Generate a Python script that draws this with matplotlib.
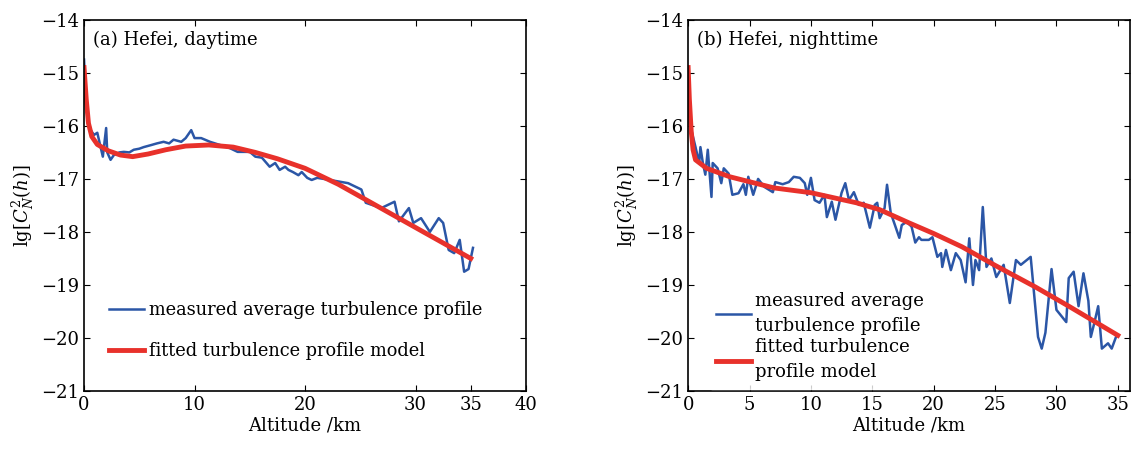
import matplotlib.pyplot as plt
import numpy as np

plt.rcParams['font.family'] = 'DejaVu Serif'
plt.rcParams['mathtext.fontset'] = 'dejavuserif'

# (a) daytime, measured
day_h = [0.0, 0.1, 0.3, 0.6, 0.9, 1.2, 1.5, 1.7, 2.0, 2.1, 2.4, 2.7, 3.2, 3.6, 4.1, 4.5, 5.0,
         5.4, 6.1, 6.6, 7.2, 7.7, 8.1, 8.8, 9.2, 9.7, 10.0, 10.6, 11.4, 12.3, 13.2, 13.9, 15.0,
         15.5, 16.1, 16.8, 17.3, 17.7, 18.2, 18.5, 18.9, 19.4, 19.7, 20.2, 20.6, 21.1, 21.7,
         23.9, 25.1, 25.5, 26.9, 28.1, 28.5, 29.4, 29.8, 30.5, 31.3, 32.1, 32.5, 33.0, 33.5,
         34.0, 34.4, 34.8, 35.2]
day_cn = [-14.75, -15.2, -15.83, -16.08, -16.17, -16.13, -16.4, -16.58, -16.04, -16.5, -16.64,
          -16.55, -16.5, -16.49, -16.5, -16.45, -16.43, -16.4, -16.36, -16.33, -16.3, -16.33,
          -16.26, -16.3, -16.23, -16.08, -16.23, -16.23, -16.3, -16.36, -16.42, -16.49, -16.49,
          -16.58, -16.6, -16.77, -16.7, -16.83, -16.77, -16.83, -16.87, -16.93, -16.87, -16.98,
          -17.02, -16.98, -17.0, -17.08, -17.2, -17.45, -17.55, -17.43, -17.8, -17.55, -17.83,
          -17.74, -18.0, -17.74, -17.83, -18.34, -18.4, -18.15, -18.75, -18.7, -18.3]
# (a) daytime, fitted model
day_fit_h = [0.0, 0.2, 0.4, 0.7, 1.2, 2.2, 3.3, 4.4, 5.8, 7.4, 9.2, 11.3, 13.5, 15.5, 17.5,
             20.0, 23.0, 26.0, 29.0, 32.0, 35.0]
day_fit = [-14.9, -15.5, -15.95, -16.2, -16.35, -16.47, -16.55, -16.58, -16.53, -16.45, -16.38,
           -16.36, -16.4, -16.5, -16.62, -16.8, -17.1, -17.45, -17.8, -18.15, -18.5]

# (b) nighttime, measured
night_h = [0.0, 0.2, 0.6, 0.9, 1.0, 1.2, 1.4, 1.6, 1.9, 2.0, 2.4, 2.7, 2.9, 3.3, 3.6, 4.1, 4.5,
           4.7, 4.9, 5.3, 5.7, 6.2, 6.9, 7.1, 7.7, 8.2, 8.6, 9.1, 9.5, 9.7, 10.0, 10.3, 10.7, 11.1,
           11.3, 11.7, 12.0, 12.5, 12.8, 13.1, 13.5, 13.9, 14.3, 14.8, 15.2, 15.4, 15.6, 16.0,
           16.2, 16.5, 17.2, 17.4, 17.8, 18.2, 18.5, 18.8, 19.0, 19.6, 19.9, 20.3, 20.6, 20.7,
           21.0, 21.4, 21.8, 22.2, 22.6, 22.9, 23.2, 23.4, 23.7, 24.0, 24.3, 24.7, 25.1, 25.7,
           26.2, 26.7, 27.1, 27.9, 28.1, 28.5, 28.8, 29.1, 29.6, 30.0, 30.8, 31.0, 31.4, 31.8,
           32.2, 32.6, 32.8, 33.1, 33.4, 33.7, 34.2, 34.5, 34.9]
night_cn = [-14.9, -16.02, -16.4, -16.7, -16.4, -16.7, -16.92, -16.45, -17.34, -16.7, -16.8,
            -17.08, -16.8, -16.9, -17.3, -17.27, -17.1, -17.3, -16.96, -17.3, -17.0, -17.15,
            -17.25, -17.06, -17.1, -17.06, -16.96, -16.98, -17.08, -17.3, -16.98, -17.4, -17.45,
            -17.3, -17.72, -17.43, -17.77, -17.26, -17.08, -17.4, -17.25, -17.49, -17.45, -17.92,
            -17.49, -17.45, -17.74, -17.55, -17.11, -17.64, -18.11, -17.87, -17.81, -17.9,
            -18.2, -18.1, -18.15, -18.15, -18.1, -18.47, -18.4, -18.66, -18.34, -18.72, -18.4,
            -18.53, -18.95, -18.12, -19.0, -18.53, -18.72, -17.53, -18.66, -18.5, -18.85, -18.62,
            -19.34, -18.53, -18.62, -18.47, -18.97, -19.98, -20.2, -19.9, -18.7, -19.47, -19.7,
            -18.87, -18.75, -19.4, -18.78, -19.3, -19.98, -19.7, -19.4, -20.2, -20.1, -20.2,
            -19.95]
# (b) nighttime, fitted model
night_fit_h = [0.0, 0.1, 0.25, 0.4, 0.6, 1.5, 3.4, 7.0, 10.0, 13.7, 15.6, 18.0, 20.0, 22.3,
               25.0, 28.3, 31.0, 35.0]
night_fit = [-14.9, -15.5, -16.1, -16.45, -16.64, -16.8, -16.96, -17.17, -17.26, -17.45, -17.58,
             -17.83, -18.03, -18.28, -18.63, -19.04, -19.4, -19.95]

blue = '#2b56a6'
red = '#e8312b'

fig = plt.figure(figsize=(11.45, 4.51), dpi=100)
ax1 = fig.add_axes([0.0734, 0.133, 0.386, 0.823])
ax2 = fig.add_axes([0.601, 0.133, 0.386, 0.823])

for ax in (ax1, ax2):
    ax.set_ylim(-21, -14)
    ax.set_yticks(np.arange(-21, -13))
    ax.tick_params(direction='in', top=True, right=True, labelsize=13, length=4)
    ax.set_xlabel('Altitude /km', fontsize=13, labelpad=2)
    ax.set_ylabel(r'lg$[C_N^2(h)]$', fontsize=13)
    for s in ax.spines.values():
        s.set_linewidth(1.2)

ax1.plot(day_h, day_cn, color=blue, lw=1.8, label='measured average turbulence profile')
ax1.plot(day_fit_h, day_fit, color=red, lw=3.5, label='fitted turbulence profile model')
ax1.set_xlim(0, 40)
ax1.set_xticks([0, 10, 20, 30, 35, 40])
ax1.text(0.02, 0.97, '(a) Hefei, daytime', transform=ax1.transAxes, fontsize=13, va='top')
ax1.legend(loc='lower left', bbox_to_anchor=(0.02, 0.04), fontsize=12.8, frameon=True,
           edgecolor='white', handlelength=1.95, handletextpad=0.3, labelspacing=1.3)

ax2.plot(night_h, night_cn, color=blue, lw=1.8, label='measured average\nturbulence profile')
ax2.plot(night_fit_h, night_fit, color=red, lw=3.5, label='fitted turbulence\nprofile model')
ax2.set_xlim(0, 36)
ax2.set_xticks(np.arange(0, 36, 5))
ax2.text(0.02, 0.97, '(b) Hefei, nighttime', transform=ax2.transAxes, fontsize=13, va='top')
leg = ax2.legend(loc='lower left', bbox_to_anchor=(0.026, -0.018), fontsize=13, frameon=True,
                 edgecolor='white', handlelength=1.95, handletextpad=0.2, labelspacing=0.2)
for t in leg.get_texts():
    t.set_linespacing(1.5)

fig.savefig('out.png', dpi=100)
